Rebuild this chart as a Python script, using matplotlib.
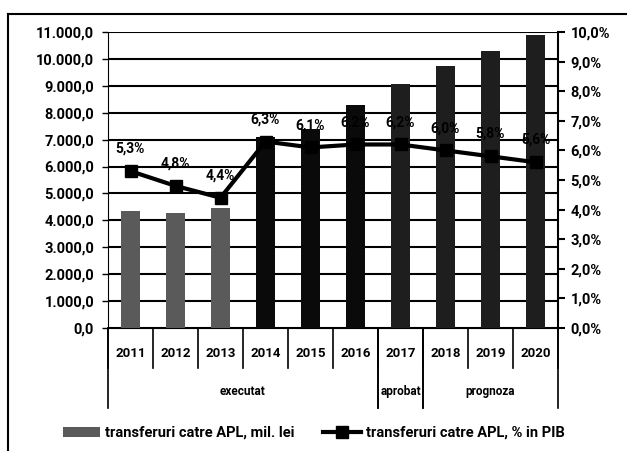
import numpy as np
import matplotlib
matplotlib.use('Agg')
import matplotlib.pyplot as plt
from matplotlib.ticker import FuncFormatter, MultipleLocator
from matplotlib.lines import Line2D
from matplotlib.patches import Patch

# date
ani = ['2011', '2012', '2013', '2014', '2015', '2016', '2017', '2018', '2019', '2020']
transferuri = [4340, 4290, 4470, 7100, 7400, 8270, 9050, 9730, 10300, 10900]
pondere_pib = [5.3, 4.8, 4.4, 6.3, 6.1, 6.2, 6.2, 6.0, 5.8, 5.6]
grupe = ['executat', 'aprobat', 'prognoza']
grupe_lim = [(0, 6), (6, 7), (7, 10)]   # indici categorii pe grupe
culori_bare = ['#5a5a5a'] * 3 + ['#0a0a0a'] * 3 + ['#1e1e1e'] * 4

plt.rcParams['font.family'] = ['Roboto', 'DejaVu Sans']
plt.rcParams['font.weight'] = 'bold'

fig = plt.figure(figsize=(6.27, 4.51), dpi=100)
W, H = 627, 451
ax = fig.add_axes([108 / W, 1 - 328 / H, 450 / W, 296 / H])
ax2 = ax.twinx()

x = np.arange(len(ani))
ax.bar(x, transferuri, width=0.42, color=culori_bare, zorder=3)
ax.set_xlim(-0.5, len(ani) - 0.5)
ax.set_ylim(0, 11000)
ax.yaxis.set_major_locator(MultipleLocator(1000))
ax.yaxis.set_major_formatter(FuncFormatter(
    lambda v, p: f"{v:,.1f}".replace(',', ' ').replace('.', ',').replace(' ', '.')))
ax.grid(axis='y', color='black', lw=1.5, zorder=0)
ax.set_xticks([])
ax.tick_params(axis='y', length=4, width=1, labelsize=10.5, pad=6)

ax2.plot(x, pondere_pib, color='black', lw=3, marker='s', ms=9, zorder=5)
ax2.set_ylim(0, 10)
ax2.yaxis.set_major_locator(MultipleLocator(1))
ax2.yaxis.set_major_formatter(FuncFormatter(lambda v, p: f"{v:.1f}%".replace('.', ',')))
ax2.tick_params(axis='y', length=5, width=1.5, labelsize=10.5, pad=4)
for xi, v in zip(x, pondere_pib):
    ax2.annotate(f"{v:.1f}%".replace('.', ','), (xi, v), xytext=(0, 11),
                 textcoords='offset points', ha='center', va='bottom',
                 fontsize=10, fontweight='bold')

for a in (ax, ax2):
    for s in a.spines.values():
        s.set_visible(False)
ax2.spines['right'].set_visible(True)
ax2.spines['right'].set_linewidth(1.5)
ax.spines['left'].set_visible(True)
ax.spines['left'].set_linestyle((0, (2, 1)))
ax.spines['bottom'].set_visible(True)

# etichete categorii si separatoare
tr = ax.get_xaxis_transform()
for xi, an in zip(x, ani):
    ax.text(xi, -0.085, an, transform=tr, ha='center', va='center', fontsize=9.5)
for b in range(len(ani) + 1):
    ax.plot([b - 0.5, b - 0.5], [0, -0.135], transform=tr, color='black', lw=1.2, clip_on=False)
for (a0, a1), g in zip(grupe_lim, grupe):
    for b in (a0, a1):
        ax.plot([b - 0.5, b - 0.5], [0, -0.27], transform=tr, color='black', lw=1.2, clip_on=False)
    ax.text((a0 + a1 - 1) / 2, -0.216, g, transform=tr, ha='center', va='center', fontsize=8.5)

# legenda
h1 = Patch(facecolor='#5a5a5a', edgecolor='none')
h2 = Line2D([], [], color='black', lw=3, marker='s', ms=9)
fig.legend([h1, h2], ['transferuri catre APL, mil. lei', 'transferuri catre APL, % in PIB'],
           loc='center', bbox_to_anchor=(0.5, 1 - 433 / H), ncol=2, frameon=False,
           fontsize=10.5, handlelength=2.6, columnspacing=2.0, handletextpad=0.3)

# chenar exterior
fig.add_artist(Line2D([8 / W, 1], [1 - 14 / H, 1 - 14 / H], color='black', lw=1.5))
fig.add_artist(Line2D([8 / W, 8 / W], [0, 1 - 14 / H], color='black', lw=1.5))

fig.savefig('out.png', dpi=100)
